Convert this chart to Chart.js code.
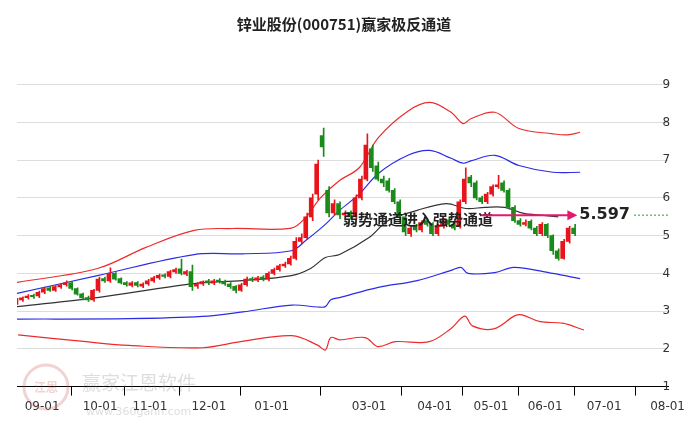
<!DOCTYPE html>
<html>
<head>
<meta charset="utf-8">
<script src="https://cdn.jsdelivr.net/npm/chart.js@4/dist/chart.umd.min.js"></script>
<style>
  html, body { margin: 0; padding: 0; background: #fff; }
  #wrap { width: 689px; height: 427px; position: relative; }
</style>
</head>
<body>
<div id="wrap"><canvas id="chart"></canvas></div>
<script>
// x axis runs in candle slots (one slot per candle)
const tickSlots = [4.6, 15.2, 24.3, 35.1, 46.6, 64.4, 76.4, 86.7, 96.6, 107.4, 119];
const tickLabels = ['09-01', '10-01', '11-01', '12-01', '01-01', '03-01', '04-01', '05-01', '06-01', '07-01', '08-01'];

// candles
const opens = [3.25,3.30,3.36,3.42,3.40,3.50,3.62,3.55,3.64,3.70,3.75,3.60,3.46,3.36,3.30,3.55,3.86,3.80,4.00,3.86,
  3.76,3.68,3.76,3.66,3.72,3.80,3.88,3.96,3.92,4.04,4.12,3.98,4.05,3.66,3.72,3.80,3.74,3.82,3.78,3.72,
  3.66,3.55,3.70,3.86,3.82,3.90,3.85,4.00,4.10,4.20,4.25,4.40,4.85,4.95,5.50,6.10,7.65,6.20,5.60,5.85,
  5.55,5.62,5.50,6.00,6.50,7.30,6.85,6.50,6.45,6.20,5.90,5.50,5.05,5.25,5.15,5.40,5.30,5.05,5.25,5.42,
  5.30,5.25,5.90,6.55,6.40,6.00,5.90,6.10,6.30,6.40,6.20,5.75,5.40,5.30,5.38,5.20,5.05,5.30,5.00,4.60,
  4.40,4.85,5.20];
const closes = [3.30,3.35,3.40,3.38,3.50,3.60,3.55,3.65,3.70,3.75,3.60,3.45,3.35,3.30,3.55,3.85,3.80,4.00,3.85,3.75,
  3.70,3.75,3.68,3.72,3.80,3.88,3.95,3.92,4.05,4.10,4.00,4.05,3.65,3.72,3.78,3.75,3.80,3.78,3.72,3.65,
  3.55,3.70,3.85,3.82,3.88,3.85,4.00,4.10,4.20,4.25,4.40,4.85,4.95,5.50,6.00,6.90,7.35,5.60,5.85,5.55,
  5.60,5.50,6.00,6.50,7.40,6.80,6.50,6.40,6.20,5.90,5.50,5.10,5.20,5.15,5.35,5.30,5.05,5.25,5.40,5.30,
  5.20,5.90,6.50,6.40,6.00,5.90,6.10,6.30,6.35,6.20,5.75,5.40,5.30,5.35,5.20,5.05,5.30,5.00,4.60,4.40,
  4.85,5.20,5.05];
const highs = [3.34,3.38,3.44,3.45,3.53,3.64,3.66,3.68,3.74,3.80,3.78,3.62,3.48,3.40,3.58,3.90,3.90,4.15,4.02,3.88,
  3.78,3.78,3.78,3.75,3.84,3.92,3.98,3.99,4.08,4.14,4.38,4.08,4.22,3.76,3.80,3.84,3.84,3.86,3.82,3.76,
  3.68,3.74,3.90,3.90,3.92,3.94,4.04,4.14,4.24,4.30,4.46,4.95,5.05,5.60,6.10,7.00,7.85,6.30,5.95,5.90,
  5.66,5.66,6.08,6.58,7.70,7.40,6.95,6.58,6.52,6.25,5.95,5.55,5.25,5.30,5.40,5.45,5.35,5.30,5.45,5.48,
  5.35,5.95,6.80,6.60,6.45,6.05,6.15,6.35,6.60,6.45,6.25,5.80,5.45,5.42,5.42,5.25,5.35,5.32,5.02,4.65,
  4.90,5.25,5.30];
const lows = [3.18,3.26,3.32,3.34,3.36,3.46,3.52,3.52,3.60,3.66,3.56,3.42,3.30,3.26,3.26,3.50,3.76,3.76,3.82,3.72,
  3.66,3.64,3.64,3.62,3.68,3.76,3.84,3.88,3.88,4.00,3.96,3.94,3.55,3.60,3.68,3.70,3.70,3.74,3.68,3.60,
  3.48,3.52,3.66,3.78,3.78,3.80,3.80,3.96,4.06,4.16,4.22,4.36,4.78,4.90,5.40,5.95,7.10,5.50,5.55,5.45,
  5.50,5.44,5.45,5.95,6.45,6.70,6.45,6.30,6.15,5.85,5.45,5.00,4.98,5.10,5.10,5.25,5.00,5.00,5.20,5.25,
  5.15,5.20,5.85,6.30,5.95,5.85,5.85,6.05,6.25,6.15,5.70,5.35,5.25,5.26,5.15,5.00,5.00,4.95,4.50,4.35,
  4.38,4.80,5.00];

// channel lines: slot positions and values
const redUpX = [0, 14.7, 23.6, 32.4, 39.5, 50.2, 52.8, 55.5, 59, 62.6, 66.1, 71.5, 75.5, 79.4, 81.6, 83, 87.4, 91.8, 98, 100.7, 103];
const redUp = [3.76, 4.13, 4.69, 5.14, 5.19, 5.2, 5.48, 6.0, 6.46, 6.8, 7.6, 8.3, 8.53, 8.27, 7.97, 8.1, 8.27, 7.84, 7.7, 7.67, 7.74];
const blueUpX = [0, 14.7, 32.4, 41.3, 50.2, 52.8, 56.4, 59, 62.6, 66.1, 71.5, 75.5, 79.4, 81.6, 83, 87.4, 91.8, 98, 103];
const blueUp = [3.47, 3.94, 4.5, 4.52, 4.6, 4.87, 5.3, 5.67, 6.1, 6.65, 7.13, 7.26, 7.05, 6.92, 6.98, 7.13, 6.86, 6.68, 6.68];
const midX = [0, 14.7, 32.4, 41.3, 50.2, 53.7, 56.4, 59, 64.4, 67.9, 73.2, 78.5, 82.1, 85.6, 89.2, 92.7, 96.3, 99];
const mid = [3.12, 3.36, 3.73, 3.81, 3.94, 4.13, 4.42, 4.5, 4.95, 5.4, 5.67, 5.85, 5.72, 5.75, 5.75, 5.59, 5.54, 5.5];
const blueLowX = [0, 20.5, 33.9, 41.3, 50.3, 55, 56.4, 57.4, 59, 66.1, 73.2, 79.4, 81.2, 82.5, 87.4, 90.9, 98, 103];
const blueLow = [2.79, 2.8, 2.86, 2.98, 3.16, 3.11, 3.12, 3.3, 3.36, 3.63, 3.81, 4.08, 4.16, 4.0, 4.02, 4.16, 4.0, 3.86];
const redLowX = [0.2, 12.6, 20.5, 33.9, 40.9, 50.3, 55, 56.4, 57.4, 59, 63.7, 66, 69.2, 75.4, 79.4, 81.9, 83.3, 87.2, 91.1, 92.4, 95.7, 99.8, 103.7];
const redLow = [2.37, 2.19, 2.09, 2.03, 2.19, 2.35, 2.1, 1.97, 2.3, 2.24, 2.3, 2.06, 2.19, 2.19, 2.54, 2.87, 2.61, 2.53, 2.88, 2.9, 2.72, 2.68, 2.5];

const signalValue = 5.597;
const arrowFrom = 85;
const arrowTo = 102.5;

const toPts = (xs, ys) => xs.map((x, i) => ({ x: x, y: ys[i] }));
const upColor = '#e8141b';
const downColor = '#1a8a1a';
const candleColors = closes.map((c, i) => c >= opens[i] ? upColor : downColor);

function lineSet(xs, ys, color) {
    return {
        type: 'line',
        data: toPts(xs, ys),
        borderColor: color,
        borderWidth: 1.2,
        pointRadius: 0,
        tension: 0.35,
        order: 3
    };
}

// title, watermark and signal annotation
const overlay = {
    id: 'overlay',
    beforeDatasetsDraw(chart) {
        const ctx = chart.ctx;
        ctx.save();
        ctx.globalAlpha = 0.25;
        ctx.strokeStyle = '#c85050';
        ctx.lineWidth = 3;
        ctx.beginPath();
        ctx.arc(46, 387, 22, 0, Math.PI * 2);
        ctx.stroke();
        ctx.fillStyle = '#c85050';
        ctx.font = 'bold 12px "Noto Sans CJK SC"';
        ctx.textAlign = 'center';
        ctx.fillText('江恩', 46, 392);
        ctx.fillStyle = '#777';
        ctx.font = '19px "Noto Sans CJK SC"';
        ctx.textAlign = 'left';
        ctx.fillText('赢家江恩软件', 82, 390);
        ctx.font = '11px "DejaVu Sans"';
        ctx.fillText('www.360gann.com', 86, 415);
        ctx.restore();
    },
    afterDatasetsDraw(chart) {
        const ctx = chart.ctx;
        const x = chart.scales.x, y = chart.scales.y;
        const yy = y.getPixelForValue(signalValue);
        const x1 = x.getPixelForValue(arrowFrom), x2 = x.getPixelForValue(arrowTo);
        ctx.save();
        ctx.fillStyle = '#222';
        ctx.font = 'bold 15px "Noto Sans CJK SC"';
        ctx.textAlign = 'center';
        ctx.textBaseline = 'middle';
        ctx.fillText('锌业股份(000751)赢家极反通道', 344, 24);
        ctx.fillText('弱势通道进入强势通道', 418, 219);
        // dotted level
        ctx.strokeStyle = '#2a9a2a';
        ctx.lineWidth = 1;
        ctx.setLineDash([2, 2]);
        ctx.beginPath();
        ctx.moveTo(634, yy + 2);
        ctx.lineTo(chart.chartArea.right, yy + 2);
        ctx.stroke();
        ctx.setLineDash([]);
        // arrow
        ctx.strokeStyle = '#e8176e';
        ctx.fillStyle = '#e8176e';
        ctx.lineWidth = 2;
        ctx.beginPath();
        ctx.moveTo(x1, yy + 2);
        ctx.lineTo(x2 - 8, yy + 2);
        ctx.stroke();
        ctx.beginPath();
        ctx.moveTo(x2, yy + 2);
        ctx.lineTo(x2 - 10, yy - 3);
        ctx.lineTo(x2 - 10, yy + 7);
        ctx.closePath();
        ctx.fill();
        ctx.fillStyle = '#222';
        ctx.font = 'bold 16px "DejaVu Sans"';
        ctx.textAlign = 'left';
        ctx.fillText(signalValue.toFixed(3), x2 + 2, yy + 2);
        ctx.restore();
    }
};

const ctx = document.getElementById('chart').getContext('2d');
const chart = new Chart(ctx, {
    type: 'bar',
    data: {
        datasets: [
            {
                data: closes.map((c, i) => ({ x: i, y: [opens[i], c] })),
                backgroundColor: candleColors,
                barThickness: 3,
                order: 1
            },
            {
                data: closes.map((c, i) => ({ x: i, y: [lows[i], highs[i]] })),
                backgroundColor: candleColors,
                barThickness: 1,
                order: 2
            },
            lineSet(redUpX, redUp, '#ee2b2b'),
            lineSet(blueUpX, blueUp, '#2c2ce6'),
            lineSet(midX, mid, '#333333'),
            lineSet(blueLowX, blueLow, '#2c2ce6'),
            lineSet(redLowX, redLow, '#ee2b2b')
        ]
    },
    options: {
        responsive: true,
        maintainAspectRatio: false,
        animation: false,
        layout: { padding: { top: 47, left: 17, right: 0, bottom: 9 } },
        plugins: {
            legend: { display: false },
            tooltip: { enabled: false }
        },
        scales: {
            x: {
                type: 'linear',
                min: 0,
                max: 119.1,
                offset: false,
                grid: { drawOnChartArea: false, drawTicks: true, tickLength: 9, color: '#000' },
                border: { color: '#000' },
                afterBuildTicks: axis => { axis.ticks = tickSlots.map(v => ({ value: v })); },
                ticks: {
                    autoSkip: false,
                    maxRotation: 0,
                    padding: 4,
                    color: '#333',
                    font: { size: 12, family: 'DejaVu Sans' },
                    callback: (v, i) => tickLabels[i]
                }
            },
            y: {
                position: 'right',
                min: 1,
                max: 10,
                afterBuildTicks: axis => { axis.ticks = [1, 2, 3, 4, 5, 6, 7, 8, 9].map(v => ({ value: v })); },
                grid: { color: '#dddddd', drawTicks: false },
                border: { display: false },
                ticks: {
                    mirror: true,
                    padding: 2,
                    color: '#333',
                    font: { size: 12, family: 'DejaVu Sans' }
                }
            }
        }
    },
    plugins: [overlay]
});
</script>
</body>
</html>
